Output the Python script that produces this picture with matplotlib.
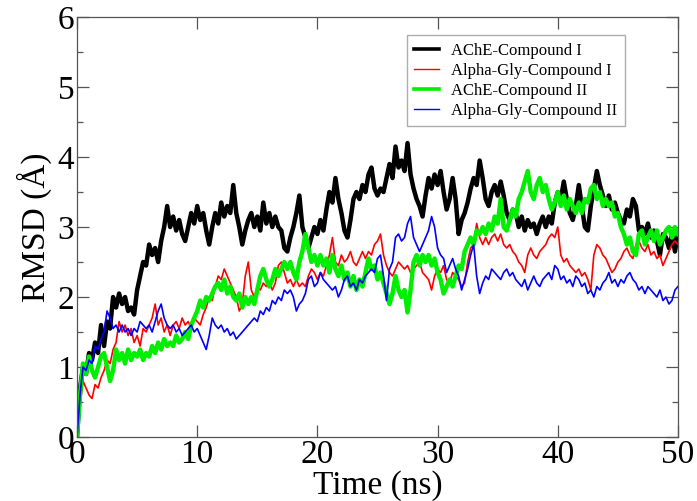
import numpy as np
import matplotlib
matplotlib.use("Agg")
import matplotlib.pyplot as plt
from matplotlib.ticker import MultipleLocator

# Time axis (ns), one sample every 0.25 ns
time_ns = np.arange(0, 50.0001, 0.25)

labels = ["AChE-Compound I", "Alpha-Gly-Compound I",
          "AChE-Compound II", "Alpha-Gly-Compound II"]

# RMSD (Angstrom) for each complex
ache_cmpd1 = [
    0.0, 0.7, 1.0, 0.9, 1.2, 1.1, 1.35, 1.2,
    1.6, 1.3, 1.65, 1.55, 2.0, 1.85, 2.05, 1.9,
    2.0, 1.8, 1.85, 1.75, 2.1, 2.3, 2.5, 2.45,
    2.75, 2.6, 2.7, 2.5, 2.8, 3.0, 3.3, 3.0,
    3.15, 2.95, 3.1, 2.9, 2.8, 3.0, 3.2, 3.05,
    3.3, 3.1, 3.2, 2.95, 2.75, 3.0, 3.2, 3.05,
    3.35, 3.15, 3.3, 3.2, 3.6, 3.2, 3.0, 2.75,
    2.95, 3.1, 3.2, 3.0, 3.15, 2.95, 3.35, 3.05,
    3.2, 3.0, 3.15, 3.0, 2.95, 2.7, 2.65, 2.85,
    3.0, 3.2, 3.45, 3.0, 2.85, 2.7, 2.85, 3.0,
    2.9, 3.1, 2.95, 3.25, 3.5, 3.35, 3.7, 3.4,
    3.2, 2.95, 2.85, 3.1, 3.4, 3.5, 3.4, 3.6,
    3.5, 3.75, 3.85, 3.55, 3.45, 3.55, 3.5, 3.7,
    3.9, 3.7, 4.15, 3.85, 3.95, 3.8, 4.2, 3.75,
    3.55, 3.4, 3.3, 3.15, 3.45, 3.7, 3.55, 3.75,
    3.6, 3.8, 3.5, 3.25, 3.4, 3.7, 3.4, 2.9,
    3.1, 3.2, 3.35, 3.55, 3.7, 3.6, 3.95, 3.7,
    3.4, 3.3, 3.5, 3.6, 3.45, 3.65, 3.45, 3.2,
    3.1, 3.25, 3.2, 3.0, 3.15, 2.95, 3.1, 3.0,
    3.05, 2.9, 3.05, 3.15, 3.0, 3.15, 3.05, 3.35,
    3.5, 3.4, 3.65, 3.4, 3.2, 3.1, 3.3, 3.6,
    3.3, 3.0, 2.95, 3.3, 3.55, 3.8, 3.6, 3.45,
    3.3, 3.45, 3.25, 3.35, 3.2, 3.1, 3.05, 3.25,
    3.15, 3.4, 3.3, 2.95, 3.0, 2.9, 3.05, 2.85,
    2.95, 2.8, 2.6, 2.9, 2.85, 2.7, 2.9, 2.65,
    2.9,
]

agly_cmpd1 = [
    0.0, 0.45, 0.8, 0.7, 0.6, 0.55, 0.75, 0.7,
    0.85, 0.95, 1.1, 1.05, 1.25, 1.35, 1.65, 1.5,
    1.6, 1.45, 1.55, 1.35, 1.45, 1.3, 1.55, 1.5,
    1.6, 1.7, 1.9, 1.6, 1.7, 1.5, 1.6, 1.45,
    1.6, 1.65, 1.55, 1.7, 1.6, 1.65, 1.55, 1.7,
    1.65, 1.6, 1.75, 1.85, 2.0, 1.95, 2.15, 2.3,
    2.25, 2.4, 2.3, 2.2, 2.1, 2.0, 1.8, 1.9,
    2.3, 2.5, 2.1, 2.0, 2.15, 2.1, 2.2, 2.15,
    2.2, 2.1, 2.2, 2.45, 2.5, 2.35, 2.2, 2.25,
    2.15, 2.25, 2.15, 2.2, 2.15, 2.3, 2.4, 2.35,
    2.25, 2.35, 2.3, 2.45, 2.6, 2.85, 2.5, 2.45,
    2.6, 2.5, 2.55, 2.65, 2.5, 2.45, 2.55, 2.65,
    2.55, 2.65, 2.6, 2.75, 2.8, 2.9, 2.6, 2.45,
    2.35, 2.3, 2.4, 2.5, 2.45, 2.4, 2.45, 2.35,
    2.4, 2.45, 2.5, 2.35, 2.3, 2.25, 2.1, 2.3,
    2.4, 2.35, 2.45, 2.25, 2.2, 2.35, 2.3, 2.25,
    2.15, 2.2, 2.5, 2.7, 2.75, 3.05, 2.85, 2.75,
    2.85, 2.75, 2.85, 2.9, 2.8, 2.9, 2.75, 2.7,
    2.75, 2.65, 2.6, 2.5, 2.45, 2.35, 2.6, 2.7,
    2.6, 2.55, 2.65, 2.7, 2.75, 2.85, 2.9, 2.85,
    3.0, 2.6, 2.5, 2.55, 2.45, 2.4, 2.35, 2.4,
    2.3, 2.35, 2.25, 2.1, 2.6, 2.75, 2.7, 2.6,
    2.55, 2.45, 2.35, 2.4, 2.5, 2.55, 2.65, 2.7,
    2.6, 2.55, 2.75, 2.8, 2.7, 2.65, 2.75, 2.6,
    2.65, 2.55, 2.6, 2.45, 2.55, 2.65, 2.75, 2.8,
    2.75,
]

ache_cmpd2 = [
    0.0, 0.6, 1.05, 0.9, 1.15, 0.95, 0.85, 1.0,
    1.15, 1.2, 1.0, 0.8, 0.95, 1.25, 1.1, 1.2,
    1.05, 1.25, 1.1, 1.2, 1.15, 1.25, 1.1, 1.2,
    1.15, 1.3, 1.2, 1.35, 1.25, 1.4, 1.3, 1.35,
    1.3, 1.45, 1.35, 1.4, 1.5, 1.4, 1.6, 1.7,
    1.8, 1.95, 1.85, 2.0, 1.95, 2.05, 2.15, 2.2,
    2.1, 2.25, 2.05, 2.15, 2.0, 1.95, 2.05, 1.85,
    2.0, 1.9, 2.0, 1.9, 2.1, 2.3, 2.4, 2.25,
    2.15, 2.25, 2.4, 2.3, 2.4, 2.5, 2.4, 2.5,
    2.35, 2.25, 2.5, 2.65, 2.9, 2.7, 2.5, 2.6,
    2.45, 2.6, 2.45, 2.55, 2.35, 2.6, 2.4, 2.3,
    2.45, 2.25, 2.35, 2.15, 2.3, 2.1, 2.25, 2.15,
    2.35, 2.55, 2.4, 2.45, 2.25, 2.35, 2.2, 2.05,
    1.9, 2.05, 2.3, 2.1, 2.0, 2.1, 1.78, 2.1,
    2.5, 2.6, 2.45, 2.6, 2.5, 2.6, 2.45, 2.55,
    2.35, 2.25, 2.05, 2.15, 2.25, 2.15, 2.3, 2.45,
    2.4, 2.65, 2.75, 2.85, 2.75, 2.95, 2.9, 3.0,
    2.9, 3.05, 2.95, 3.15, 3.05, 3.4, 3.0, 2.95,
    3.1, 3.25, 3.15, 3.4, 3.5, 3.65, 3.8, 3.5,
    3.4, 3.6, 3.7, 3.5, 3.6, 3.4, 3.25, 3.35,
    3.5, 3.3, 3.45, 3.25, 3.4, 3.3, 3.2, 3.35,
    3.2, 3.4, 3.35, 3.55, 3.6, 3.4, 3.5, 3.3,
    3.4, 3.3, 3.35, 3.15, 3.2, 3.0, 2.9, 2.75,
    2.85, 2.65, 2.6, 2.9, 2.95, 2.75, 2.85, 2.95,
    2.8, 2.95, 2.75, 2.85, 2.95, 3.0, 2.85, 3.0,
    2.9,
]

agly_cmpd2 = [
    0.0, 0.6, 1.0, 0.95, 1.1, 1.05, 1.3, 1.25,
    1.4, 1.5, 1.8, 1.7, 1.55, 1.6, 1.5, 1.6,
    1.5, 1.55, 1.45, 1.55, 1.5, 1.65, 1.6, 1.55,
    1.6, 1.5, 1.65, 1.8, 1.9, 1.7, 1.6, 1.55,
    1.6, 1.5, 1.55, 1.45, 1.5, 1.55, 1.6, 1.5,
    1.55, 1.45, 1.35, 1.25, 1.45, 1.7, 1.6, 1.55,
    1.6, 1.5, 1.55, 1.45, 1.5, 1.4, 1.45, 1.5,
    1.55, 1.6, 1.65, 1.7, 1.65, 1.8, 1.75, 1.85,
    1.8, 1.95, 1.9, 2.0, 1.95, 2.1, 2.05, 2.1,
    2.0, 1.8, 1.9, 1.95, 2.05, 2.25, 2.3, 2.15,
    2.2, 2.35, 2.25, 2.2, 2.15, 2.1, 2.15, 2.0,
    2.1, 2.25, 2.3, 2.15, 2.2, 2.1, 2.25, 2.2,
    2.3, 2.35, 2.4, 2.35, 2.55, 2.6, 2.3, 1.95,
    2.4, 2.5, 2.85, 2.9, 2.8, 2.85, 3.05, 3.15,
    2.85, 2.75, 2.65, 2.75, 2.85, 2.95, 3.15, 3.0,
    2.7, 2.6, 2.55, 2.35, 2.45, 2.55, 2.4, 2.3,
    2.1, 2.25, 2.4, 2.6, 2.75, 2.3, 2.05, 2.2,
    2.3, 2.25, 2.4, 2.35, 2.3, 2.25, 2.35, 2.4,
    2.3, 2.35, 2.25, 2.2, 2.15, 2.25, 2.1, 2.2,
    2.3, 2.2, 2.15, 2.25, 2.3, 2.35, 2.25, 2.45,
    2.4, 2.25, 2.3, 2.2, 2.25, 2.15, 2.3, 2.25,
    2.15, 2.2, 2.05, 2.1, 2.0, 2.15, 2.1, 2.2,
    2.25, 2.35, 2.2, 2.25, 2.15, 2.25, 2.2, 2.3,
    2.35, 2.25, 2.2, 2.1, 2.15, 2.05, 2.15, 2.1,
    2.05, 2.0, 2.1, 1.95, 2.0, 1.9, 1.95, 2.1,
    2.15,
]

series = [ache_cmpd1, agly_cmpd1, ache_cmpd2, agly_cmpd2]
colors = ["#000000", "#ff0000", "#00ee00", "#0000ff"]
widths = [3.2, 1.2, 3.2, 1.2]

plt.rcParams["font.family"] = ["Liberation Serif", "DejaVu Serif"]

fig = plt.figure(figsize=(6.97, 5.01), dpi=100)
ax = fig.add_axes([0.1105, 0.1277, 0.8622, 0.8383])

for y, c, w, lab in zip(series, colors, widths, labels):
    ax.plot(time_ns, y, color=c, lw=w, label=lab)

ax.set_xlim(0, 50)
ax.set_ylim(0, 6)
ax.xaxis.set_major_locator(MultipleLocator(10))
ax.yaxis.set_major_locator(MultipleLocator(1))
ax.yaxis.set_minor_locator(MultipleLocator(0.5))
ax.tick_params(which="both", direction="in", top=True, right=True,
               labelsize=24, color="#555555", width=0.9)
ax.tick_params(which="major", length=8.5, pad=2)
ax.tick_params(which="minor", length=4.3)
for s in ax.spines.values():
    s.set_color("#555555")
    s.set_linewidth(0.9)

ax.set_xlabel("Time (ns)", fontsize=24, labelpad=0)
ax.set_ylabel("RMSD (Å)", fontsize=24, labelpad=4)

leg = ax.legend(loc="upper left", bbox_to_anchor=(0.549, 0.957),
                fontsize=12, frameon=True, fancybox=False,
                handlelength=1.5, handletextpad=0.7, labelspacing=0.24,
                borderpad=0.45, borderaxespad=0)
leg.get_frame().set_edgecolor("#999999")
leg.get_frame().set_linewidth(1.0)
for h, w in zip(leg.get_lines(), [2.6, 1.0, 2.6, 1.0]):
    h.set_linewidth(w)

fig.savefig("out.png", dpi=100)
